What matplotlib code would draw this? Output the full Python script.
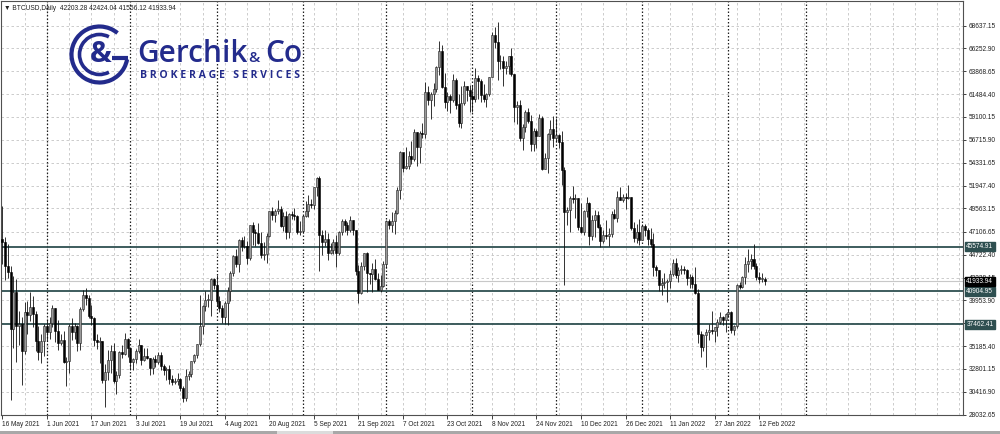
import matplotlib.pyplot as plt
import matplotlib.transforms as mtransforms
from matplotlib.patches import Arc, Rectangle
import numpy as np
import pandas as pd

plt.rcParams['font.family'] = ['Liberation Sans', 'DejaVu Sans']

# BTCUSD daily, 16 May 2021 .. 14 Feb 2022 (prices in thousands of USD)
start_date = '2021-05-16'
first_open = 46.4

close_k = [
    46.1, 43.5, 42.9, 37.0, 40.8, 37.3, 37.5, 34.7, 38.7, 38.4, 39.3, 38.5, 35.7, 34.6, 35.7, 37.3,
    36.7, 37.6, 39.2, 36.8, 35.5, 35.8, 33.5, 33.6, 37.3, 36.7, 37.3, 35.5, 39.1, 40.5, 40.2,
    38.3, 38.1, 35.8, 35.6, 35.7, 31.7, 32.5, 33.7, 34.7, 31.6, 32.2, 34.6, 34.4, 35.9, 35.0,
    33.5, 33.8, 34.7, 35.3, 33.7, 34.2, 33.9, 32.9, 33.8, 33.5, 34.3, 33.1, 32.7, 32.8, 31.8,
    31.4, 31.5, 31.8, 30.8, 29.8, 32.1, 32.3, 33.6, 34.3, 35.4, 37.3, 39.4, 40.0, 40.0, 42.2, 41.6,
    39.9, 39.2, 38.2, 39.7, 40.9, 42.8, 44.6, 43.8, 46.3, 45.6, 45.6, 44.4, 47.8, 47.1, 47.0,
    45.9, 44.7, 44.8, 46.7, 49.3, 48.9, 49.3, 49.5, 47.7, 48.8, 47.1, 49.0, 48.9, 48.8, 47.1, 47.2,
    48.8, 49.3, 50.0, 49.9, 51.8, 52.7, 46.8, 46.1, 46.4, 44.9, 45.2, 46.1, 44.9, 47.1, 48.2,
    47.8, 47.3, 48.3, 47.3, 43.0, 40.7, 43.5, 44.9, 42.8, 42.7, 43.2, 42.2, 41.0, 41.5, 43.8,
    48.2, 47.8, 48.2, 49.1, 51.5, 55.4, 53.8, 54.0, 55.0, 54.7, 57.5, 56.0, 57.4, 57.3, 61.7,
    60.9, 61.5, 62.0, 64.3, 66.0, 62.2, 60.7, 61.3, 60.9, 63.0, 60.4, 58.5, 60.6, 62.3, 61.9, 61.3,
    61.0, 63.2, 62.9, 61.4, 61.0, 61.5, 63.3, 67.6, 66.9, 64.9, 64.9, 64.2, 64.4, 65.5, 63.6,
    60.1, 60.4, 56.9, 58.1, 59.6, 58.7, 56.3, 57.6, 57.1, 59.0, 53.7, 54.8, 57.3, 57.8, 56.9,
    57.2, 56.5, 53.6, 49.2, 49.4, 50.6, 50.5, 50.6, 47.6, 47.1, 49.3, 50.1, 46.7, 48.4, 48.9,
    47.6, 46.2, 46.8, 46.7, 46.9, 49.0, 48.6, 50.8, 50.4, 50.8, 50.6, 50.7, 47.5, 46.5, 47.1, 46.3,
    47.7, 47.3, 46.4, 45.8, 43.4, 43.1, 41.6, 41.8, 41.9, 42.0, 42.7, 43.9, 42.6, 43.1, 43.2,
    43.1, 42.3, 42.4, 41.7, 40.7, 36.5, 35.1, 36.3, 36.7, 36.9, 36.8, 37.2, 37.7, 38.2, 37.9, 38.5,
    38.7, 36.9, 37.3, 41.6, 41.4, 42.4, 43.8, 44.1, 44.3, 43.6, 42.4, 42.2, 42.2, 41.93394,
]
high_k = [
    49.8, 46.6, 45.8, 43.5, 42.5, 42.2, 38.8, 38.2, 39.8, 39.9, 40.8, 40.4, 38.8, 37.3, 36.4, 37.5,
    37.9, 38.2, 39.5, 39.2, 37.9, 36.4, 36.8, 34.0, 37.5, 38.1, 37.6, 37.4, 39.3, 41.0, 41.3,
    40.5, 39.5, 38.2, 36.4, 36.1, 35.7, 33.3, 34.8, 35.3, 35.5, 32.6, 34.7, 35.3, 36.6, 36.0,
    35.0, 33.9, 34.9, 35.9, 35.3, 35.0, 35.0, 33.9, 34.1, 34.3, 34.6, 34.6, 33.3, 33.0, 33.2,
    32.2, 31.9, 32.4, 31.9, 31.0, 32.8, 32.6, 33.6, 34.4, 35.4, 40.5, 39.5, 40.9, 40.6, 42.3, 42.3,
    42.6, 40.4, 39.5, 39.9, 41.4, 43.0, 44.7, 45.3, 46.4, 46.6, 46.7, 46.2, 47.8, 48.1, 47.4,
    48.0, 47.1, 46.0, 47.0, 49.3, 49.7, 49.5, 50.4, 49.8, 49.2, 49.3, 49.1, 49.3, 49.6, 48.9, 48.2,
    48.9, 50.3, 51.0, 50.5, 51.8, 52.8, 52.9, 47.3, 47.3, 47.0, 45.9, 46.4, 46.8, 47.2, 48.4,
    48.4, 48.1, 48.8, 48.3, 47.3, 43.6, 44.0, 44.9, 45.0, 42.8, 43.9, 44.3, 42.8, 42.6, 44.1,
    48.3, 48.4, 49.2, 49.4, 51.8, 55.6, 55.3, 56.0, 55.5, 56.6, 57.8, 57.5, 57.6, 58.5, 62.8,
    62.3, 61.7, 62.6, 64.4, 67.0, 66.6, 63.7, 61.7, 61.5, 63.6, 63.2, 61.5, 62.3, 62.9, 62.3, 62.4,
    62.4, 64.2, 63.5, 63.1, 62.5, 61.6, 63.3, 68.0, 68.5, 69.0, 65.6, 65.5, 64.9, 65.5, 66.3,
    63.6, 60.8, 60.9, 58.4, 59.8, 60.0, 59.3, 58.0, 57.8, 59.4, 59.2, 55.3, 57.4, 58.8, 59.2,
    59.0, 57.3, 57.6, 53.9, 49.7, 50.9, 51.9, 51.1, 50.6, 50.1, 49.4, 50.7, 50.2, 48.9, 49.4,
    49.3, 47.9, 47.3, 48.3, 47.5, 49.3, 49.5, 51.4, 51.8, 51.1, 51.2, 52.0, 50.7, 48.1, 47.9, 48.5,
    47.9, 47.9, 47.5, 47.5, 47.0, 43.7, 43.1, 42.3, 42.8, 42.2, 43.1, 44.3, 44.4, 43.4, 43.7,
    43.5, 43.2, 42.7, 42.6, 43.4, 41.1, 36.8, 36.5, 37.0, 37.5, 38.9, 37.2, 38.0, 38.7, 38.3, 38.6,
    39.1, 38.8, 37.4, 41.7, 41.9, 42.5, 44.5, 45.3, 44.8, 45.8, 43.9, 42.9, 42.8, 42.42404,
]
low_k = [
    43.8, 42.1, 42.3, 29.6, 35.0, 33.5, 35.3, 31.1, 34.4, 36.4, 37.8, 37.2, 34.7, 33.7, 33.4, 34.2,
    35.7, 35.9, 37.2, 35.6, 34.8, 35.3, 33.4, 31.0, 32.4, 35.8, 35.9, 34.7, 34.8, 38.8, 39.5,
    38.1, 37.4, 35.2, 34.9, 33.4, 31.3, 28.8, 31.7, 32.4, 31.3, 30.2, 31.9, 33.9, 34.3, 34.0,
    32.7, 32.7, 33.4, 34.5, 33.2, 33.6, 33.8, 32.2, 32.3, 33.0, 33.3, 32.7, 32.2, 31.6, 31.2,
    31.1, 31.2, 31.1, 30.5, 29.4, 29.5, 31.7, 32.0, 33.4, 33.9, 35.2, 36.4, 38.8, 39.3, 38.3, 41.1,
    39.4, 38.7, 37.6, 37.5, 37.4, 39.9, 42.5, 43.4, 42.9, 45.1, 45.4, 43.8, 44.2, 45.7, 45.6,
    45.8, 44.4, 44.2, 43.9, 46.6, 48.3, 48.1, 49.0, 47.6, 47.2, 46.4, 46.5, 48.5, 48.3, 46.9, 46.8,
    47.0, 48.7, 48.7, 49.6, 49.5, 50.9, 43.0, 44.7, 45.6, 44.2, 44.8, 44.8, 43.4, 44.7, 46.8,
    47.1, 46.8, 47.1, 46.8, 42.6, 39.7, 40.6, 43.1, 40.8, 41.7, 40.8, 42.1, 41.0, 40.8, 41.4,
    43.3, 47.4, 47.1, 46.9, 49.0, 50.5, 53.4, 53.7, 53.7, 54.2, 54.5, 54.0, 54.3, 56.9, 56.9,
    60.3, 58.9, 60.2, 61.7, 63.5, 62.1, 60.0, 59.7, 59.5, 60.7, 59.9, 58.1, 58.0, 60.4, 60.8, 59.6,
    59.6, 60.7, 61.0, 60.7, 60.7, 60.1, 61.3, 63.3, 66.3, 63.0, 64.1, 62.3, 63.6, 63.6, 63.4,
    58.6, 58.4, 56.6, 55.7, 57.5, 58.5, 55.6, 55.5, 55.9, 57.1, 53.6, 53.7, 53.3, 56.7, 56.0,
    56.5, 55.9, 52.0, 41.6, 47.8, 47.1, 50.1, 48.6, 47.3, 47.0, 46.8, 48.7, 45.7, 46.3, 46.6,
    47.5, 45.5, 45.9, 46.4, 45.6, 46.6, 48.5, 48.1, 50.4, 50.2, 49.5, 50.5, 47.3, 46.1, 45.9, 45.7,
    46.3, 46.7, 45.7, 45.5, 42.5, 42.5, 40.9, 40.5, 41.2, 39.8, 41.3, 42.5, 42.3, 41.9, 42.7,
    42.7, 41.6, 41.3, 41.2, 40.6, 35.5, 34.0, 34.7, 33.0, 35.8, 36.5, 35.6, 36.2, 37.5, 37.4, 36.7,
    38.2, 36.6, 36.3, 37.1, 41.1, 41.2, 41.7, 42.9, 43.2, 43.2, 42.1, 41.8, 41.9, 41.55612,
]
last_bar = [42203.28, 42424.04, 41556.12, 41933.94]

# horizontal levels drawn on the chart
levels = [45574.91, 40904.95, 37462.41]
bid_price = 41933.94

# right axis ticks (37569.65 sits under the 37462.41 tag, so it has no text)
y_ticks = [28032.65, 30416.90, 32801.15, 35185.40, 37569.65, 39953.90, 42338.15,
           44722.40, 47106.65, 49563.15, 51947.40, 54331.65, 56715.90, 59100.15,
           61484.40, 63868.65, 66252.90, 68637.15]
hidden_ticks = [37569.65]

# bottom axis labels
x_labels = ['16 May 2021', '1 Jun 2021', '17 Jun 2021', '3 Jul 2021', '19 Jul 2021',
            '4 Aug 2021', '20 Aug 2021', '5 Sep 2021', '21 Sep 2021', '7 Oct 2021',
            '23 Oct 2021', '8 Nov 2021', '24 Nov 2021', '10 Dec 2021', '26 Dec 2021',
            '11 Jan 2022', '27 Jan 2022', '12 Feb 2022']

closes = np.array(close_k) * 1000
highs = np.array(high_k) * 1000
lows = np.array(low_k) * 1000
opens = np.concatenate([[first_open * 1000], closes[:-1]])
opens[-1] = last_bar[0]

t0 = pd.Timestamp(start_date)
days = np.arange(len(closes))

teal = '#2e4f50'

fig = plt.figure(figsize=(10, 4.34), dpi=100)
fig.patch.set_facecolor('white')
ax = fig.add_axes([0.001, 19 / 434, 0.962, 414 / 434])
ax.set_xlim(-0.47, 345.3)
ax.set_ylim(28000, 71200)

# grid
for yv in y_ticks:
    ax.axhline(yv, color='#c4c4c4', lw=0.6, ls=(0, (3, 3)), zorder=0)
for d in np.arange(8, 346, 8):
    ax.axvline(d, color='#c4c4c4', lw=0.6, ls=(0, (3, 3)), zorder=0)
for m in pd.date_range('2021-06-01', '2022-03-01', freq='MS'):
    ax.axvline((m - t0).days, color='#202020', lw=0.9, ls=(0, (1.2, 1.6)), zorder=0.5)

# levels
ax.axhline(bid_price, color='#c8c8c8', lw=0.8, zorder=1)
for lv in levels:
    ax.axhline(lv, color=teal, lw=1.3, zorder=1)

# candles
up = closes >= opens
ax.vlines(days, lows, highs, color='#101010', lw=0.6, zorder=2)
body_lo = np.minimum(opens, closes)
body_h = np.maximum(np.abs(closes - opens), 60)
ax.bar(days[up], body_h[up], bottom=body_lo[up], width=0.72,
       color='#9a9a9a', edgecolor='#202020', lw=0.4, zorder=3)
ax.bar(days[~up], body_h[~up], bottom=body_lo[~up], width=0.72,
       color='black', edgecolor='black', lw=0.4, zorder=3)

# axes
for s in ax.spines.values():
    s.set_color('#505050')
    s.set_linewidth(0.8)
ax.yaxis.tick_right()
ax.set_yticks(y_ticks)
ax.set_yticklabels(['' if v in hidden_ticks else f'{v:.2f}' for v in y_ticks])
ax.tick_params(axis='y', direction='out', length=2.5, width=0.6, pad=1.5,
               labelsize=4.7, colors='#202020')
x_pos = [(pd.to_datetime(s, format='%d %b %Y') - t0).days for s in x_labels]
ax.set_xticks(x_pos)
ax.set_xticklabels(x_labels)
ax.tick_params(axis='x', direction='out', length=3, width=0.6, pad=1.5,
               labelsize=4.7, colors='#202020')
for lab in ax.get_xticklabels():
    lab.set_horizontalalignment('left')

# price tags on the right
trans = mtransforms.blended_transform_factory(ax.transAxes, ax.transData)
for lv in levels:
    ax.text(1.0035, lv, f'{lv:.2f}', transform=trans, ha='left', va='center',
            fontsize=4.7, color='white', clip_on=False, zorder=10,
            bbox=dict(boxstyle='square,pad=0.2', fc=teal, ec=teal))
ax.text(1.0035, bid_price, f'{bid_price:.2f}', transform=trans, ha='left', va='center',
        fontsize=4.7, color='white', clip_on=False, zorder=10,
        bbox=dict(boxstyle='square,pad=0.2', fc='black', ec='black'))

# overlay in pixel coordinates: header, logo, status strip
ov = fig.add_axes([0, 0, 1, 1], zorder=5)
ov.set_xlim(0, 1000)
ov.set_ylim(434, 0)
ov.axis('off')
ov.patch.set_alpha(0)

ov.text(4, 8.5, '▼ BTCUSD,Daily  ' + ' '.join(f'{v:.2f}' for v in last_bar),
        fontsize=4.8, va='center', ha='left', color='#202020')

ov.add_patch(Rectangle((0, 431), 1000, 3, color='#a8a8a8', lw=0))
ov.add_patch(Rectangle((277, 431), 56, 3, color='#dcdcdc', lw=0))

blue = '#232b8c'
cx, cy = 99.5, 54.5
ov.add_patch(Arc((cx, cy), 56, 56, theta1=10, theta2=310, color=blue, lw=3.0))
ov.add_patch(Arc((cx, cy), 40, 40, theta1=62, theta2=298, color=blue, lw=2.6))
ov.plot([112, 127.5], [57.5, 57.5], color=blue, lw=3.0, solid_capstyle='butt')
ov.text(101, 54, '&', fontsize=21, color=blue, ha='center', va='center',
        family='Open Sans', weight='bold')
ov.text(137, 62, 'Gerchik', fontsize=21.5, color=blue, ha='left', va='baseline',
        family='Open Sans', weight='semibold')
ov.text(248.5, 62, '&', fontsize=11, color=blue, ha='left', va='baseline',
        family='Open Sans', weight='semibold')
ov.text(265, 62, 'Co', fontsize=21.5, color=blue, ha='left', va='baseline',
        family='Open Sans', weight='semibold')
ov.text(220, 77.5, 'B R O K E R A G E   S E R V I C E S', fontsize=7.6, color=blue,
        ha='center', va='baseline', family='Open Sans', weight='bold')

fig.savefig('out.png', dpi=100)
